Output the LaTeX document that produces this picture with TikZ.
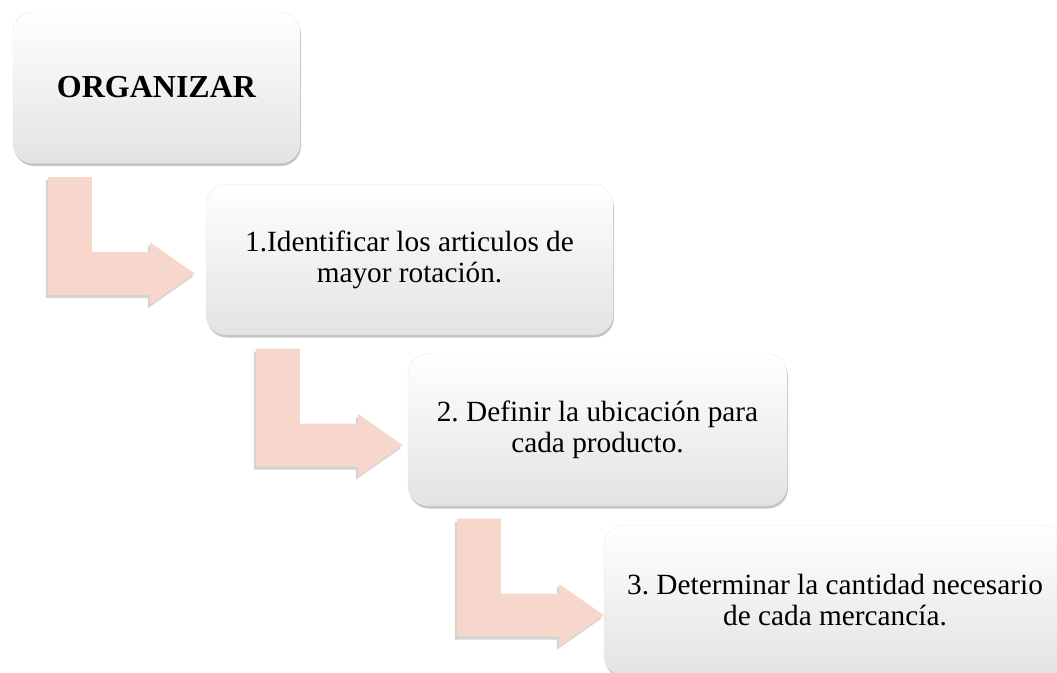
\documentclass[tikz,border=0pt]{standalone}
\usepackage{fontspec}
\setmainfont{Liberation Serif}
\frenchspacing
\usetikzlibrary{shadows,calc}
\definecolor{arrowpink}{RGB}{247,214,203}
\tikzset{
  stepbox/.style={rectangle, rounded corners=20pt, draw=black!8,
    top color=white, middle color=white, bottom color=black!11,
    minimum height=150pt, inner sep=0pt, align=center,
    font=\fontsize{29.3}{31}\selectfont,
    drop shadow={shadow xshift=1pt, shadow yshift=-3pt, opacity=0.45}},
  bendshape/.style={fill=arrowpink,
    drop shadow={shadow xshift=-2pt, shadow yshift=-3pt, opacity=0.35}}
}
% bent arrow, #1 = top left corner of the stem
\newcommand\bendarrow[1]{%
  \fill[bendshape] #1 -- ++(44,0) -- ++(0,75) -- ++(58,0) -- ++(0,-10)
    -- ++(45,31.5) -- ++(-45,31.5) -- ++(0,-10) -- ++(-102,0) -- cycle;}
\begin{document}
\begin{tikzpicture}[x=1pt,y=-1pt]
  \useasboundingbox (0,0) rectangle (1057,672);
  \clip (0,0) rectangle (1057,672);
	\node [stepbox, minimum width=287pt, minimum height=151pt, font=\fontsize{32}{36}\selectfont\bfseries] (org) at (156.5,87.5) {ORGANIZAR};
	\node [stepbox, minimum width=407pt] (stepone) at (409.5,259.5) {1.Identificar los articulos de\\mayor rotación.};
	\node [stepbox, minimum width=379pt, minimum height=152pt] (steptwo) at (597.5,429.5) {2. Definir la ubicación para\\cada producto.};
	\node [stepbox, minimum width=462pt] (stepthree) at (835,600.5) {3. Determinar la cantidad necesario\\de cada mercancía.};
	\bendarrow{($(org.south west)+(35,14)$)}
	\bendarrow{($(stepone.south west)+(50,14)$)}
	\bendarrow{($(steptwo.south west)+(49,13)$)}
\end{tikzpicture}
\end{document}
